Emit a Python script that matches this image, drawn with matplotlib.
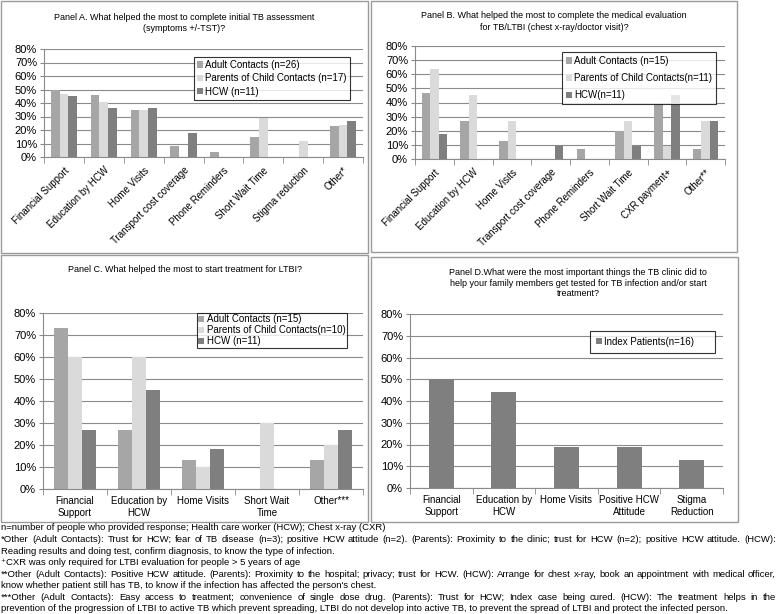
import matplotlib
matplotlib.use("Agg")
import matplotlib.pyplot as plt
import numpy as np
from matplotlib.patches import Rectangle
from matplotlib.ticker import FixedLocator

plt.rcParams['font.family'] = ['Liberation Sans', 'DejaVu Sans']

# Panel A data (%)
cats_a = ["Financial Support", "Education by HCW", "Home Visits", "Transport cost coverage",
          "Phone Reminders", "Short Wait Time", "Stigma reduction", "Other*"]
adult_a = [50, 46, 35, 8, 4, 15, 0, 23]
parent_a = [47, 41, 35, 0, 0, 29, 12, 24]
hcw_a = [45, 36, 36, 18, 0, 0, 0, 27]
labels_a = ["Adult Contacts (n=26)", "Parents of Child Contacts (n=17)", "HCW (n=11)"]

# Panel B data (%)
cats_b = ["Financial Support", "Education by HCW", "Home Visits", "Transport cost coverage",
          "Phone Reminders", "Short Wait Time", "CXR payment+", "Other**"]
adult_b = [47, 27, 13, 0, 7, 20, 40, 7]
parent_b = [64, 45, 27, 0, 0, 27, 9, 27]
hcw_b = [18, 0, 0, 9, 0, 9, 45, 27]
labels_b = ["Adult Contacts (n=15)", "Parents of Child Contacts(n=11)", "HCW(n=11)"]

# Panel C data (%)
cats_c = ["Financial\nSupport", "Education by\nHCW", "Home Visits", "Short Wait\nTime", "Other***"]
adult_c = [73, 27, 13, 0, 13]
parent_c = [60, 60, 10, 30, 20]
hcw_c = [27, 45, 18, 0, 27]
labels_c = ["Adult Contacts (n=15)", "Parents of Child Contacts(n=10)", "HCW (n=11)"]

# Panel D data (%)
cats_d = ["Financial\nSupport", "Education by\nHCW", "Home Visits", "Positive HCW\nAttitude", "Stigma\nReduction"]
index_d = [50, 44, 19, 19, 13]
labels_d = ["Index Patients(n=16)"]

colors = ["#a6a6a6", "#dadada", "#7f7f7f"]
grid_c = "#8a8a8a"

W, H = 778, 614
fig = plt.figure(figsize=(W / 100, H / 100), dpi=100)


def px_axes(x0, y0, x1, y1):
    return fig.add_axes([x0 / W, 1 - y1 / H, (x1 - x0) / W, (y1 - y0) / H])


def box(x0, y0, x1, y1):
    fig.patches.append(Rectangle((x0 / W, 1 - y1 / H), (x1 - x0) / W, (y1 - y0) / H,
                                 transform=fig.transFigure, fill=False,
                                 edgecolor="#9a9a9a", linewidth=1.0))


def style_axes(ax, n, ylab_size=8):
    ax.set_ylim(0, 80)
    ax.set_xlim(-0.5, n - 0.5)
    ax.set_yticks(range(0, 81, 10))
    ax.set_yticklabels([f"{v}%" for v in range(0, 81, 10)], fontsize=ylab_size)
    ax.yaxis.grid(True, color=grid_c, linewidth=0.8)
    ax.set_axisbelow(True)
    for s in ["top", "right"]:
        ax.spines[s].set_visible(False)
    for s in ["left", "bottom"]:
        ax.spines[s].set_color(grid_c)
        ax.spines[s].set_linewidth(0.8)
    ax.tick_params(axis="y", length=3, color=grid_c, pad=2)
    ax.tick_params(axis="x", which="major", length=0)
    ax.xaxis.set_minor_locator(FixedLocator(np.arange(-0.5, n, 1.0)))
    ax.tick_params(axis="x", which="minor", length=4, color=grid_c)


def grouped(ax, series, labels, width=0.22):
    x = np.arange(len(series[0]))
    for i, (vals, lab) in enumerate(zip(series, labels)):
        ax.bar(x + (i - 1) * width, vals, width=width, color=colors[i], label=lab, zorder=2)
    return x


def legend(ax, x0, y0, size=7, spacing=0.3, pad=0.3, width=None):
    kw = {}
    if width is None:
        kw["bbox_to_anchor"] = (x0 / W, 1 - y0 / H)
    else:
        kw["bbox_to_anchor"] = (x0 / W, 1 - y0 / H - 0.01, width / W, 0.01)
        kw["mode"] = "expand"
    leg = ax.legend(loc="upper left", bbox_transform=fig.transFigure, borderaxespad=0,
                    fontsize=size, frameon=True, fancybox=False, handlelength=0.6,
                    handleheight=0.6, handletextpad=0.25, labelspacing=spacing,
                    borderpad=pad, **kw)
    leg.get_frame().set_edgecolor("black")
    leg.get_frame().set_linewidth(0.8)
    leg.set_zorder(5)
    return leg


# panel borders
box(1, 1, 368, 253)
box(371, 1, 737, 252)
box(1, 255, 368, 522)
box(371, 257, 738, 522)

# Panel A
ax = px_axes(44, 49, 363, 157)
x = grouped(ax, [adult_a, parent_a, hcw_a], labels_a)
style_axes(ax, len(cats_a))
ax.set_xticks(x)
ax.set_xticklabels(cats_a, rotation=45, ha="right", rotation_mode="anchor", fontsize=7)
ax.tick_params(axis="x", which="major", pad=6)
legend(ax, 194, 57, spacing=0.35, pad=0.3)
fig.text(184.5 / W, 1 - 23 / H, "Panel A. What helped the most to complete initial TB assessment\n(symptoms +/-TST)?",
         ha="center", va="center", fontsize=6.5, linespacing=1.3)

# Panel B
ax = px_axes(415, 46, 725, 159)
x = grouped(ax, [adult_b, parent_b, hcw_b], labels_b)
style_axes(ax, len(cats_b))
ax.set_xticks(x)
ax.set_xticklabels(cats_b, rotation=45, ha="right", rotation_mode="anchor", fontsize=7)
ax.tick_params(axis="x", which="major", pad=6)
legend(ax, 562, 52, spacing=0.75, pad=0.4)
fig.text(554 / W, 1 - 21.5 / H, "Panel B. What helped the most to complete the medical evaluation\nfor TB/LTBI (chest x-ray/doctor visit)?",
         ha="center", va="center", fontsize=6.5, linespacing=1.3)

# Panel C
ax = px_axes(43, 313, 363, 489)
x = grouped(ax, [adult_c, parent_c, hcw_c], labels_c)
style_axes(ax, len(cats_c))
ax.set_xticks(x)
ax.set_xticklabels(cats_c, fontsize=7, linespacing=1.2)
ax.tick_params(axis="x", which="major", pad=5)
legend(ax, 197, 313, spacing=0.1, pad=0.15)
fig.text(184.5 / W, 1 - 270 / H, "Panel C. What helped the most to start treatment for LTBI?",
         ha="center", va="center", fontsize=6.5)

# Panel D
ax = px_axes(410, 314, 723, 488)
x = np.arange(len(cats_d))
ax.bar(x, index_d, width=0.4, color=colors[2], label=labels_d[0], zorder=2)
style_axes(ax, len(cats_d))
ax.set_xticks(x)
ax.set_xticklabels(cats_d, fontsize=7, linespacing=1.2)
ax.tick_params(axis="x", which="major", pad=5)
legend(ax, 590, 331, pad=0.6, width=125)
fig.text(578 / W, 1 - 283 / H,
         "Panel D.What were the most important things the TB clinic did to\nhelp your family members get tested for TB infection and/or start\ntreatment?",
         ha="center", va="center", fontsize=6.5, linespacing=1.25)

# footnotes
notes = [
    ("n=number of people who provided response; Health care worker (HCW); Chest x-ray (CXR)", False),
    ("*Other (Adult Contacts): Trust for HCW; fear of TB disease (n=3); positive HCW attitude (n=2). (Parents): Proximity to the clinic; trust for HCW (n=2); positive HCW attitude. (HCW):", True),
    ("Reading results and doing test, confirm diagnosis, to know the type of infection.", False),
    ("\u207aCXR was only required for LTBI evaluation for people > 5 years of age", False),
    ("**Other (Adult Contacts): Positive HCW attitude. (Parents): Proximity to the hospital; privacy; trust for HCW. (HCW): Arrange for chest x-ray, book an appointment with medical officer,", True),
    ("know whether patient still has TB, to know if the infection has affected the person's chest.", False),
    ("***Other (Adult Contacts): Easy access to treatment; convenience of single dose drug. (Parents): Trust for HCW; Index case being cured. (HCW): The treatment helps in the", True),
    ("prevention of the progression of LTBI to active TB which prevent spreading, LTBI do not develop into active TB, to prevent the spread of LTBI and protect the infected person.", False),
]
note_font = ['Liberation Sans Narrow', 'Liberation Sans', 'DejaVu Sans']
note_size = 6.8
renderer = fig.canvas.get_renderer()
x_left, x_right = 1, 776
for i, (line, justify) in enumerate(notes):
    y = 1 - (528 + i * 11.57) / H
    if not justify:
        fig.text(x_left / W, y, line, ha="left", va="center", fontsize=note_size, family=note_font)
        continue
    words = line.split(" ")
    objs = [fig.text(0, y, w, ha="left", va="center", fontsize=note_size, family=note_font) for w in words]
    widths = [o.get_window_extent(renderer).width for o in objs]
    gap = (x_right - x_left - sum(widths)) / (len(words) - 1)
    pos = x_left
    for o, w in zip(objs, widths):
        o.set_x(pos / W)
        pos += w + gap

fig.savefig("out.png", dpi=100)
